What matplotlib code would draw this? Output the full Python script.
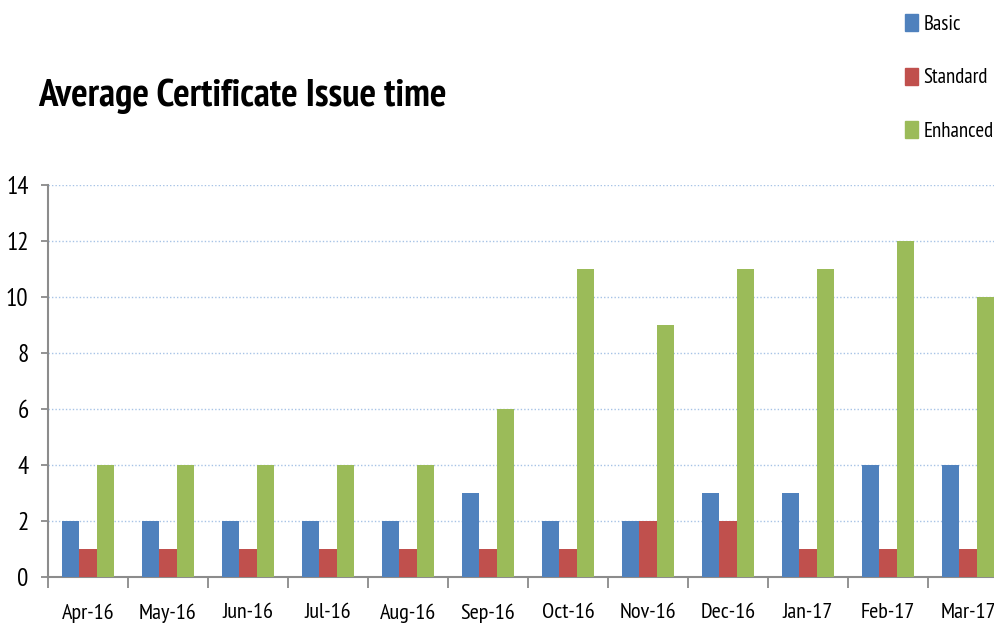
import numpy as np
import matplotlib
matplotlib.use("Agg")
import matplotlib.pyplot as plt
from matplotlib.patches import Patch

plt.rcParams["font.family"] = ["PT Sans Narrow", "DejaVu Sans"]

months = ["Apr-16", "May-16", "Jun-16", "Jul-16", "Aug-16", "Sep-16",
          "Oct-16", "Nov-16", "Dec-16", "Jan-17", "Feb-17", "Mar-17"]
basic = [2, 2, 2, 2, 2, 3, 2, 2, 3, 3, 4, 4]
standard = [1, 1, 1, 1, 1, 1, 1, 2, 2, 1, 1, 1]
enhanced = [4, 4, 4, 4, 4, 6, 11, 9, 11, 11, 12, 10]

series = [("Basic", basic, "#4f81bd"),
          ("Standard", standard, "#c0504d"),
          ("Enhanced", enhanced, "#9bbb59")]

W, H = 995, 633
fig = plt.figure(figsize=(W / 100, H / 100), dpi=100)
# axes run past the right edge like the original
ax = fig.add_axes([48 / W, (H - 577) / H, 960 / W, (577 - 185) / H])

x = np.arange(len(months))
bw = 0.22
for i, (name, vals, col) in enumerate(series):
    ax.bar(x + (i - 1) * bw, vals, width=bw, color=col, zorder=3)

ax.set_xlim(-0.5, len(months) - 0.5)
ax.set_ylim(0, 14)
ax.set_yticks(range(0, 15, 2))
ax.set_xticks(x)
ax.set_xticklabels(months, fontsize=16)
ax.set_xticks(np.arange(-0.5, len(months), 1), minor=True)
ax.tick_params(axis="x", which="major", length=0, pad=19)
ax.tick_params(axis="x", which="minor", length=8, color="#808080", width=1.2)
ax.tick_params(axis="y", length=5, color="#808080", width=1.2, labelsize=18, pad=9)

ax.yaxis.grid(True, linestyle=(0, (1, 1.5)), color="#a7c3e6", linewidth=1, zorder=0)
for s in ["top", "right"]:
    ax.spines[s].set_visible(False)
for s in ["left", "bottom"]:
    ax.spines[s].set_color("#8c8c8c")
    ax.spines[s].set_linewidth(1.5)

fig.text(38 / W, 1 - 96 / H, "Average Certificate Issue time", fontsize=28,
         fontweight="bold", va="center", ha="left")

handles = [Patch(color=c) for _, _, c in series]
fig.legend(handles, [n for n, _, _ in series], loc="upper left",
           bbox_to_anchor=(905 / W, 1 - 14 / H), frameon=False, fontsize=15,
           borderpad=0, borderaxespad=0,
           handlelength=0.6, handleheight=0.9, handletextpad=0.3,
           labelspacing=1.62)

fig.savefig("out.png", dpi=100)
